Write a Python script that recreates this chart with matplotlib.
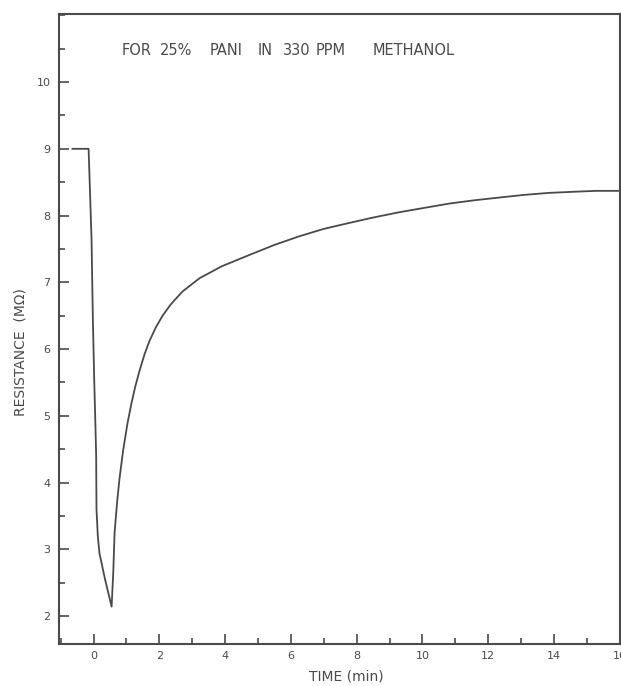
import matplotlib
matplotlib.use("Agg")
import matplotlib.pyplot as plt
from matplotlib.ticker import MultipleLocator

# Resistance response of 25% PANI film to 330 ppm methanol
time_min = [-0.64, -0.15, -0.10, -0.06, -0.02, 0.02, 0.05, 0.08, 0.09,
            0.13, 0.18, 0.35, 0.55,
            0.60, 0.64, 0.72, 0.79, 0.90, 1.03, 1.15, 1.27, 1.39, 1.55,
            1.70, 1.90, 2.10, 2.35, 2.70, 3.22, 3.90, 4.74, 5.50, 6.26,
            7.00, 7.78, 8.50, 9.30, 10.00, 10.82, 11.60, 12.34, 13.10,
            13.86, 14.77, 15.30, 16.00]
resistance = [9.00, 9.00, 8.25, 7.63, 6.45, 5.55, 5.00, 4.40, 3.60,
              3.20, 2.94, 2.55, 2.14,
              2.65, 3.25, 3.72, 4.06, 4.48, 4.88, 5.18, 5.44, 5.66, 5.92,
              6.12, 6.33, 6.50, 6.67, 6.86, 7.06, 7.24, 7.41, 7.56, 7.69,
              7.80, 7.89, 7.97, 8.05, 8.11, 8.18, 8.23, 8.27, 8.31,
              8.34, 8.36, 8.37, 8.37]

x_ticks = [0, 2, 4, 6, 8, 10, 12, 14, 16]
y_ticks = [2, 3, 4, 5, 6, 7, 8, 9, 10]

title_words = ["FOR", "25%", "PANI", "IN", "330", "PPM", "METHANOL"]
x_label = "TIME (min)"
y_label = "RESISTANCE  (M\u03a9)"

ink = "#4a4a4a"

fig = plt.figure(figsize=(6.21, 6.86), dpi=100)
ax = fig.add_axes([0.095, 0.0612, 0.903, 0.9184])

ax.plot(time_min, resistance, color=ink, lw=1.3, solid_joinstyle="round")

ax.set_xlim(-1.05, 16.0)
ax.set_ylim(1.58, 11.02)

ax.set_xticks(x_ticks)
ax.set_yticks(y_ticks)
ax.xaxis.set_minor_locator(MultipleLocator(1))
ax.yaxis.set_minor_locator(MultipleLocator(0.5))

ax.tick_params(axis="both", which="major", direction="in", length=7,
               width=1.2, color=ink, labelcolor=ink, labelsize=8)
ax.tick_params(axis="both", which="minor", direction="in", length=4,
               width=1.2, color=ink)
ax.tick_params(axis="x", which="major", pad=5)
ax.tick_params(axis="y", which="major", pad=6)

for side in ["left", "bottom", "top", "right"]:
    ax.spines[side].set_color(ink)
    ax.spines[side].set_linewidth(1.5)

ax.set_xlabel(x_label, color=ink, fontsize=10)
ax.set_ylabel(y_label, color=ink, fontsize=10)
ax.xaxis.set_label_coords(0.513, -0.041)
ax.yaxis.set_label_coords(-0.057, 0.463)

# Header lettering, one word at a time with wide spacing
word_x = [0.85, 2.01, 3.53, 5.00, 5.75, 6.75, 8.48]
for word, wx in zip(title_words, word_x):
    ax.text(wx, 10.47, word, color=ink, fontsize=10.5, ha="left", va="center")

fig.savefig("out.png", dpi=100, facecolor="white")
